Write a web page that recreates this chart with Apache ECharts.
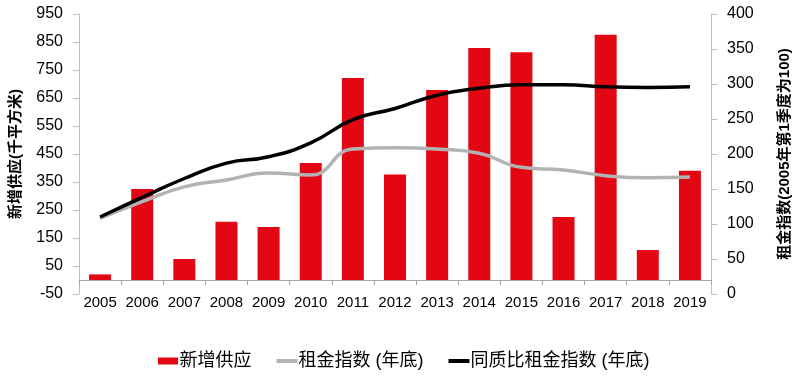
<!DOCTYPE html>
<html>
<head>
<meta charset="utf-8">
<script src="https://cdn.jsdelivr.net/npm/echarts@6/dist/echarts.min.js"></script>
<style>
html,body{margin:0;padding:0;background:#fff;}
#chart{width:800px;height:382px;}
</style>
</head>
<body>
<div id="chart"></div>
<script>
const years = ['2005','2006','2007','2008','2009','2010','2011','2012','2013','2014','2015','2016','2017','2018','2019'];
const newSupply = [20, 325, 75, 208, 189, 418, 721, 377, 679, 829, 813, 225, 876, 107, 390];
const rentIndex = [108, 132, 153, 163, 173, 170, 207, 209, 207, 201, 181, 177, 169, 166, 167];
const sameQualityRentIndex = [110, 138, 165, 187, 196, 216, 249, 265, 284, 294, 299, 299, 296, 295, 296];
const leftTicks = {min: -50, max: 950, interval: 100};
const rightTicks = {min: 0, max: 400, interval: 50};

const FONT = "'Liberation Sans', 'Noto Sans CJK SC', sans-serif";
const chart = echarts.init(document.getElementById('chart'), null, {renderer: 'canvas'});
chart.setOption({
  animation: false,
  textStyle: {fontFamily: FONT},
  grid: {left: 78, right: 83, top: 14, bottom: 88, containLabel: false},
  legend: {
    left: 153, top: 347, itemGap: 25, itemWidth: 21, itemHeight: 7,
    textStyle: {fontFamily: FONT, fontSize: 18, color: '#000', padding: [0, 0, 0, -4]},
    data: [
      {name: '新增供应', icon: 'path://M0,0H20V7H0Z'},
      {name: '租金指数 (年底)', icon: 'path://M0,0H21V4H0Z'},
      {name: '同质比租金指数 (年底)', icon: 'path://M0,0H21V4H0Z'}
    ]
  },
  xAxis: {
    type: 'category',
    data: years,
    axisLine: {onZero: true, onZeroAxisIndex: 0, lineStyle: {color: '#a6a6a6', width: 1}},
    axisTick: {show: true, length: 5, lineStyle: {color: '#a6a6a6'}},
    axisLabel: {interval: 0, margin: 1, fontSize: 15, color: '#000', fontFamily: FONT}
  },
  yAxis: [
    {
      type: 'value', min: leftTicks.min, max: leftTicks.max, interval: leftTicks.interval,
      name: '新增供应(千平方米)', nameLocation: 'middle', nameGap: 56,
      nameTextStyle: {fontSize: 15, fontWeight: 'bold', color: '#000', fontFamily: FONT},
      axisLine: {show: true, lineStyle: {color: '#bfbfbf'}},
      axisTick: {show: true, length: 6, lineStyle: {color: '#bfbfbf'}},
      axisLabel: {margin: 16, fontSize: 16, color: '#000', fontFamily: FONT},
      splitLine: {show: false}
    },
    {
      type: 'value', min: rightTicks.min, max: rightTicks.max, interval: rightTicks.interval,
      name: '租金指数(2005年第1季度为100)', nameLocation: 'middle', nameGap: 66,
      nameTextStyle: {fontSize: 15, fontWeight: 'bold', color: '#000', fontFamily: FONT},
      axisLine: {show: true, lineStyle: {color: '#bfbfbf'}},
      axisTick: {show: true, length: 6, lineStyle: {color: '#bfbfbf'}},
      axisLabel: {margin: 16, fontSize: 16, color: '#000', fontFamily: FONT},
      splitLine: {show: false}
    }
  ],
  series: [
    {
      name: '新增供应', type: 'bar', yAxisIndex: 0, data: newSupply,
      barWidth: 22, itemStyle: {color: '#e30613'}
    },
    {
      name: '租金指数 (年底)', type: 'line', yAxisIndex: 1, data: rentIndex,
      smooth: true, symbol: 'none', lineStyle: {color: '#b3b3b3', width: 3.5}, itemStyle: {color: '#b3b3b3'}
    },
    {
      name: '同质比租金指数 (年底)', type: 'line', yAxisIndex: 1, data: sameQualityRentIndex,
      smooth: true, symbol: 'none', lineStyle: {color: '#000000', width: 3.5}, itemStyle: {color: '#000000'}
    }
  ]
});
</script>
</body>
</html>
